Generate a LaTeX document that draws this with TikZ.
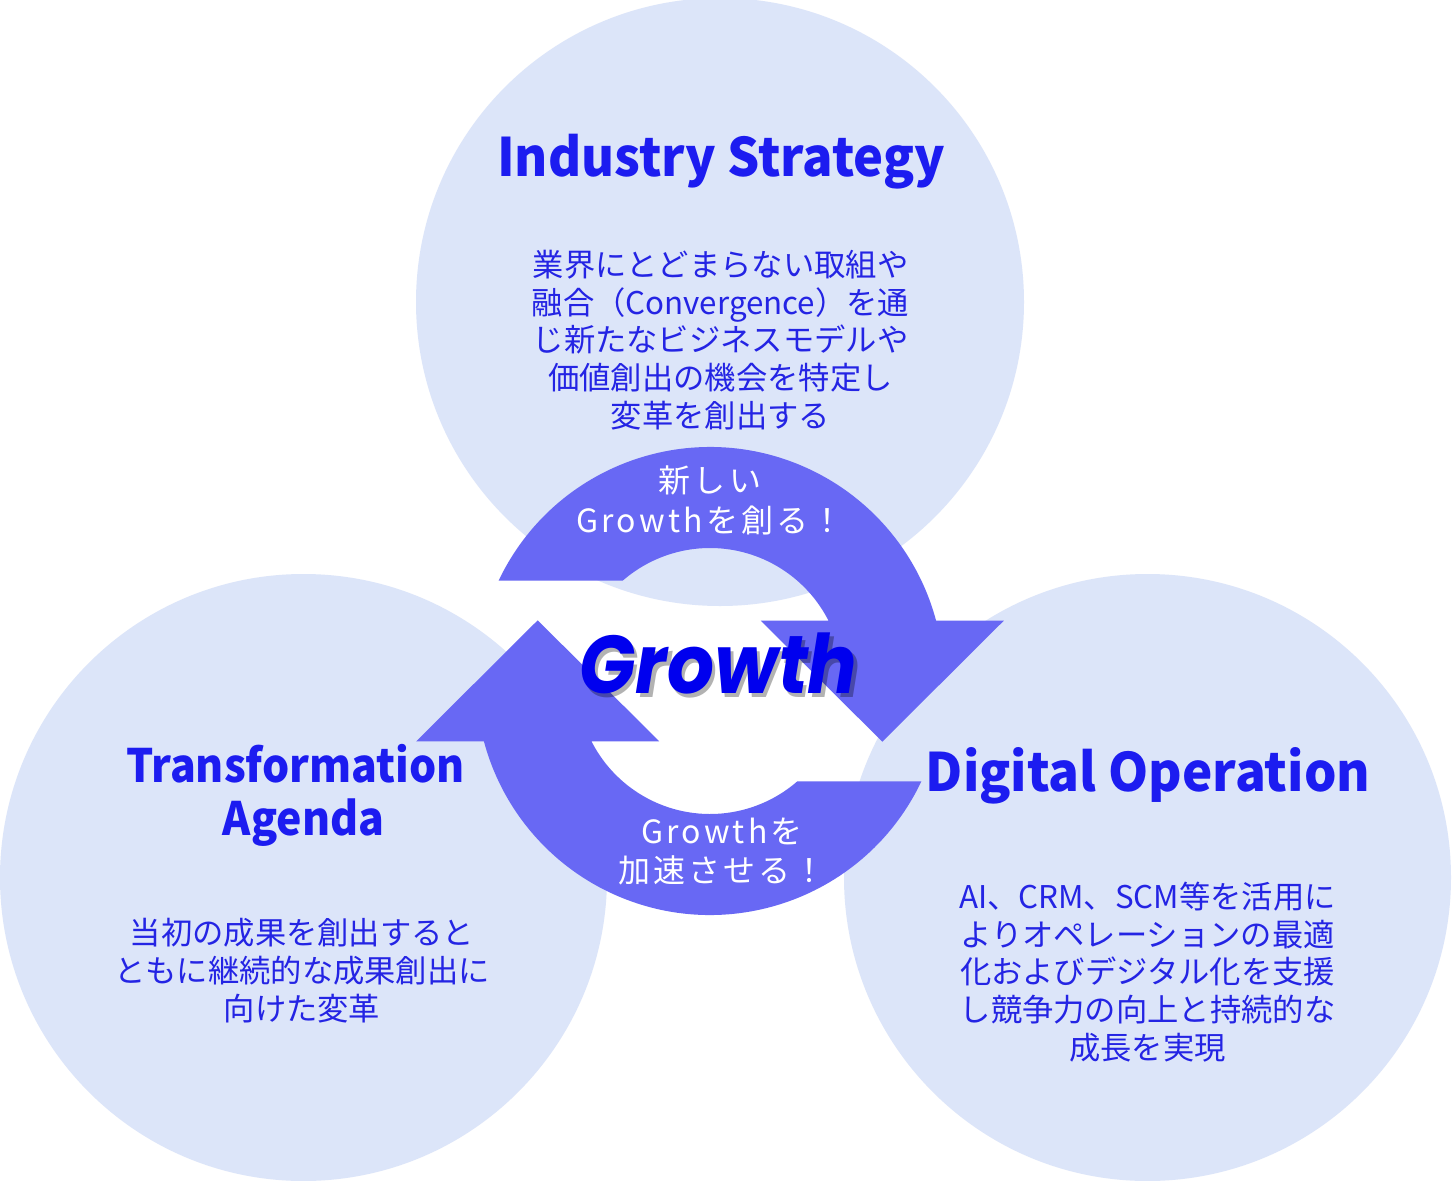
\documentclass[tikz,border=0pt]{standalone}
\usepackage{fontspec}
\usepackage{graphicx}
\usetikzlibrary{calc}
\setmainfont{Noto Sans CJK JP}
\newfontfamily\labelfont{Noto Sans CJK JP}[LetterSpace=10]
\newfontfamily\growthfont{Poppins}
\definecolor{circfill}{HTML}{DCE5F9}
\definecolor{arrowfill}{HTML}{6868F4}
\definecolor{titlecol}{HTML}{1C1CF0}
\definecolor{bodycol}{HTML}{2424E4}
\definecolor{growthcol}{HTML}{0000EE}
\begin{document}
\begin{tikzpicture}[x=1pt,y=-1pt,
  bigcircle/.style={circle, fill=circfill, draw=none, inner sep=0, minimum size=607},
  arrowshape/.style={fill=arrowfill, draw=none},
  titletext/.style={text=titlecol, font=\fontsize{53}{60}\selectfont\bfseries, inner sep=0, anchor=base},
  subtitletext/.style={text=titlecol, font=\fontsize{46}{52}\selectfont\bfseries, inner sep=0, anchor=base},
  bodytext/.style={text=bodycol, font=\fontsize{31.3}{37.6}\selectfont, align=center, inner sep=0, anchor=base},
  arrowlabel/.style={text=white, font=\labelfont\fontsize{32}{40}\selectfont, align=center, inner sep=0, anchor=base},
  growthtext/.style={font=\growthfont\fontsize{82}{90}\selectfont\bfseries\itshape, inner sep=0, anchor=base}]
\useasboundingbox (0,0) rectangle (1452,1181);
\fill[white] (0,0) rectangle (1452,1181);

% circles
\node[bigcircle, minimum size=608] (ctop) at (720,302) {};
\node[bigcircle] (cleft) at (303.5,877.5) {};
\node[bigcircle] (cright) at (1147.5,877.5) {};

% circular arrows
\coordinate (C) at (710,681);
\fill[arrowshape] ($(C)+(205.38:234)$) arc[start angle=205.38, end angle=345.07, radius=234]
  -- (1003.8,620.7) -- (882.3,741.7) -- (760.8,620.7)
  -- ($(C)+(333.04:133)$) arc[start angle=333.04, end angle=228.95, radius=133] -- cycle;
\begin{scope}[rotate around={180:(C)}]
\fill[arrowshape] ($(C)+(205.38:234)$) arc[start angle=205.38, end angle=345.07, radius=234]
  -- (1003.8,620.7) -- (882.3,741.7) -- (760.8,620.7)
  -- ($(C)+(333.04:133)$) arc[start angle=333.04, end angle=228.95, radius=133] -- cycle;
\end{scope}

% titles
\node[titletext] (t1) at (721,176.5) {\scalebox{0.955}[1]{Industry Strategy}};
\node[subtitletext] (t2a) at (295.5,782) {\scalebox{0.93}[1]{Transformation}};
\node[subtitletext] (t2b) at (303.5,835.5) {\scalebox{0.93}[1]{Agenda}};
\node[titletext] (t3) at (1148,791) {\scalebox{0.965}[1]{Digital Operation}};

% bodies (anchor base = last line)
\node[bodytext] (b1) at (720.5,427) {業界にとどまらない取組や\\融合（Convergence）を通\\じ新たなビジネスモデルや\\価値創出の機会を特定し\\変革を創出する};
\node[bodytext] (b2) at (302,1020) {当初の成果を創出すると\\ともに継続的な成果創出に\\向けた変革};
\node[bodytext] (b3) at (1147.5,1059) {AI、CRM、SCM等を活用に\\よりオペレーションの最適\\化およびデジタル化を支援\\し競争力の向上と持続的な\\成長を実現};

% arrow labels
\node[arrowlabel] (l1) at (710,532) {新しい\\Growthを創る！};
\node[arrowlabel, font=\labelfont\fontsize{32}{39}\selectfont] (l2) at (722,882) {Growthを\\加速させる！};

% Growth with soft shadow
\node[growthtext, text=black, opacity=0.3] (gshadow) at (722,697) {\scalebox{0.9}[1]{Growth}};
\node[growthtext, text=growthcol] (g) at (718.5,693) {\scalebox{0.9}[1]{Growth}};
\end{tikzpicture}
\end{document}
